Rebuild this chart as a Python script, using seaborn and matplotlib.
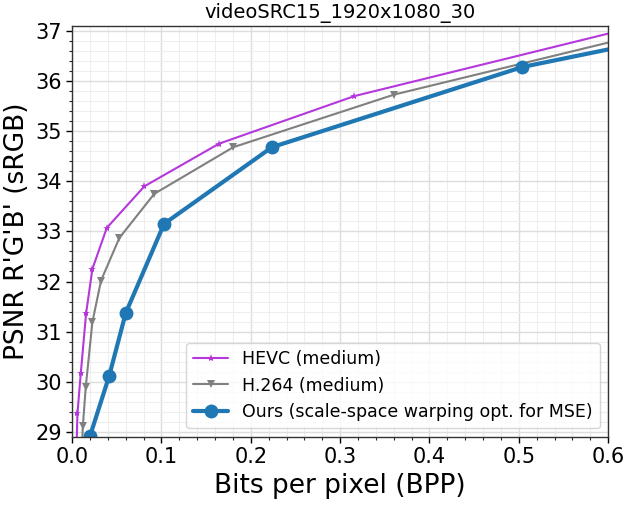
import numpy as np
import pandas as pd
import matplotlib
matplotlib.use('Agg')
import matplotlib.pyplot as plt
import seaborn as sns
from matplotlib.ticker import MultipleLocator

# Rate-distortion points
hevc_bpp = [0.0045, 0.006, 0.0097, 0.0157, 0.0227, 0.0388, 0.0809, 0.1644, 0.316, 0.66]
hevc_psnr = [28.40, 29.37, 30.17, 31.37, 32.25, 33.07, 33.90, 34.75, 35.70, 37.21]

h264_bpp = [0.0105, 0.012, 0.0153, 0.0227, 0.0324, 0.0529, 0.092, 0.1804, 0.3605, 0.70]
h264_psnr = [28.50, 29.11, 29.90, 31.19, 32.02, 32.87, 33.75, 34.68, 35.73, 37.20]

ours_bpp = [0.0201, 0.0414, 0.060, 0.1029, 0.2237, 0.504, 0.80]
ours_psnr = [28.92, 30.11, 31.37, 33.15, 34.68, 36.28, 37.36]

labels = ['HEVC (medium)', 'H.264 (medium)', 'Ours (scale-space warping opt. for MSE)']

df = pd.concat([
    pd.DataFrame({'bpp': hevc_bpp, 'psnr': hevc_psnr, 'codec': labels[0]}),
    pd.DataFrame({'bpp': h264_bpp, 'psnr': h264_psnr, 'codec': labels[1]}),
    pd.DataFrame({'bpp': ours_bpp, 'psnr': ours_psnr, 'codec': labels[2]}),
])

sns.set_style('whitegrid')
plt.rcParams['font.family'] = ['DejaVu Sans']
plt.rcParams['text.color'] = 'black'
plt.rcParams['axes.labelcolor'] = 'black'

fig, ax = plt.subplots(figsize=(6.27, 5.08), dpi=100)
fig.subplots_adjust(left=0.115, right=0.970, top=0.949, bottom=0.140)

styles = {
    labels[0]: dict(color='#b438dc', marker='*', ms=6, lw=1.5),
    labels[1]: dict(color='#808080', marker='v', ms=6, lw=1.5),
    labels[2]: dict(color='#1f77b4', marker='o', ms=10, lw=3),
}
for name in labels:
    sub = df[df['codec'] == name]
    st = styles[name]
    sns.lineplot(data=sub, x='bpp', y='psnr', ax=ax, sort=False,
                 color=st['color'], marker=st['marker'], markersize=st['ms'],
                 linewidth=st['lw'], markeredgewidth=0, label=name)

ax.set_xlim(0, 0.6)
ax.set_ylim(28.9, 37.1)
ax.xaxis.set_major_locator(MultipleLocator(0.1))
ax.xaxis.set_minor_locator(MultipleLocator(0.02))
ax.yaxis.set_major_locator(MultipleLocator(1))
ax.yaxis.set_minor_locator(MultipleLocator(0.2))
ax.grid(which='major', color='#dddddd', lw=1.0)
ax.grid(which='minor', color='#eeeeee', lw=0.8)
ax.tick_params(which='major', direction='out', length=4, width=1, colors='black',
               labelsize=15, left=True, bottom=True)
ax.tick_params(which='minor', direction='out', length=2, width=0.8, left=True, bottom=True)
for sp in ax.spines.values():
    sp.set_color('#333333')
    sp.set_linewidth(1)

ax.set_title('videoSRC15_1920x1080_30', fontsize=14)
ax.set_xlabel('Bits per pixel (BPP)', fontsize=19)
ax.set_ylabel("PSNR R'G'B' (sRGB)", fontsize=19)
ax.legend(loc='lower right', fontsize=12.5, frameon=True)

plt.savefig('out.png', dpi=100)
